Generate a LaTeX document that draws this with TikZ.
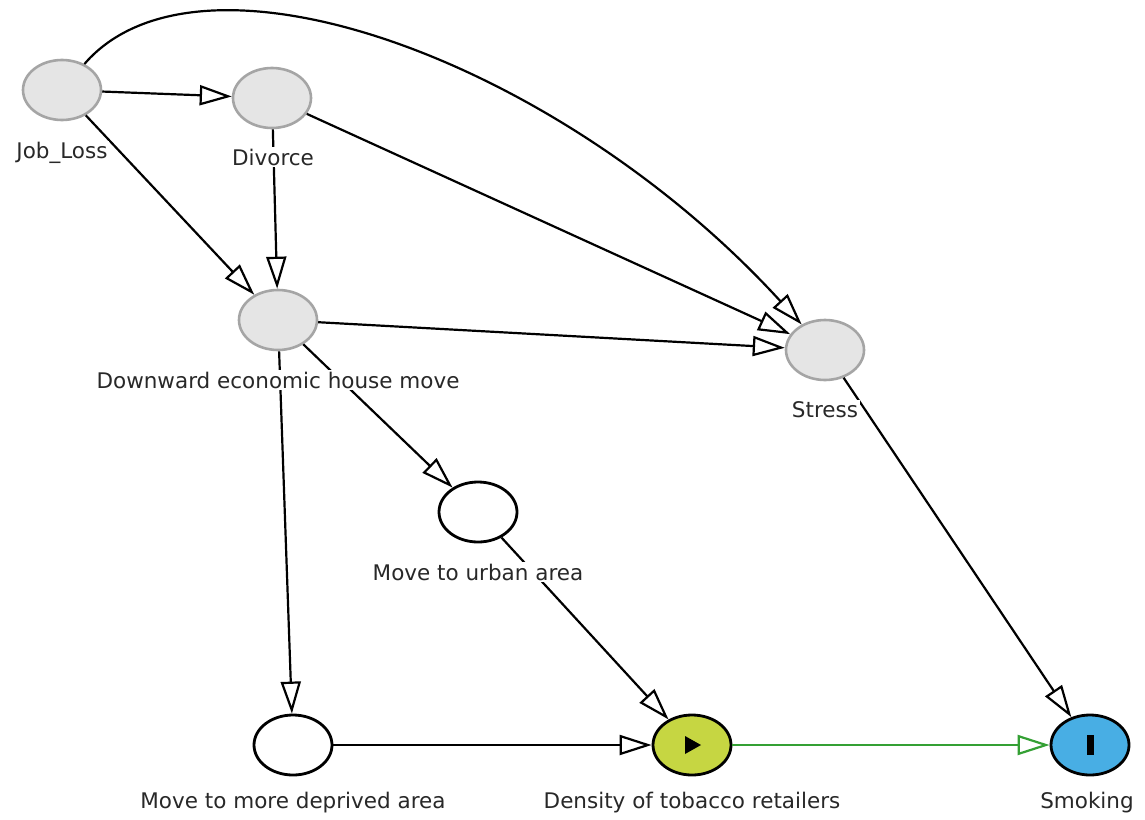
\documentclass[tikz,border=0pt]{standalone}
\usepackage{fontspec}
\setmainfont{DejaVu Sans}
\usetikzlibrary{arrows.meta,shapes.geometric,calc}
\definecolor{nodegray}{RGB}{229,229,229}
\definecolor{bordergray}{RGB}{165,165,165}
\definecolor{densfill}{RGB}{198,214,66}
\definecolor{smkfill}{RGB}{72,174,228}
\definecolor{edgegreen}{RGB}{52,160,52}
\definecolor{txt}{RGB}{40,40,40}
\tikzset{
  latent/.style={ellipse, draw=bordergray, fill=nodegray, line width=2.6pt, minimum width=78pt, minimum height=60pt, inner sep=0pt},
  obs/.style={ellipse, draw=black, fill=white, line width=2.8pt, minimum width=78pt, minimum height=60pt, inner sep=0pt},
  lbl/.style={fill=white, inner sep=1.5pt, text=txt, font=\fontsize{21.5}{26}\selectfont},
  edge/.style={draw=black, line width=2.2pt, -{Triangle[open, length=32pt, width=20pt]}},
}
\begin{document}
\begin{tikzpicture}[x=1pt, y=-1pt]
\useasboundingbox[fill=white] (0,0) rectangle (1145,819);
% nodes
\node[latent] (jl) at (62,90) {};
\node[latent] (dv) at (272,98) {};
\node[latent] (dw) at (278,320) {};
\node[latent] (st) at (825,350) {};
\node[obs] (mu) at (478,512) {};
\node[obs] (md) at (293,745) {};
\node[obs, fill=densfill] (de) at (692,745) {};
\node[obs, fill=smkfill] (sm) at (1090,745) {};
% icons
\fill[black] ($(de)+(-7,-9)$) -- ($(de)+(-7,9)$) -- ($(de)+(9,0)$) -- cycle;
\fill[black] ($(sm)+(-3.5,-10)$) rectangle ($(sm)+(3.5,10)$);
% edges
\draw[edge] (jl) -- (dv);
\draw[edge] (jl) -- (dw);
\draw[edge] (jl) .. controls (200,-70) and (560,60) .. (st);
\draw[edge] (dv) -- (dw);
\draw[edge] (dv) -- (st);
\draw[edge] (dw) -- (st);
\draw[edge] (dw) -- (mu);
\draw[edge] (dw) -- (md);
\draw[edge] (mu) -- (de);
\draw[edge] (md) -- (de);
\draw[edge] (st) -- (sm);
\draw[edge, draw=edgegreen] (de) -- (sm);
% labels
\node[lbl] (ljl) at (62,153) {Job\_Loss};
\node[lbl] (ldv) at (273,157) {Divorce};
\node[lbl] (ldw) at (278,380) {Downward economic house move};
\node[lbl] (lst) at (825,410) {Stress};
\node[lbl] (lmu) at (478,572) {Move to urban area};
\node[lbl] (lmd) at (293,803) {Move to more deprived area};
\node[lbl] (lde) at (692,803) {Density of tobacco retailers};
\node[lbl] (lsm) at (1087,803) {Smoking};
\end{tikzpicture}
\end{document}
